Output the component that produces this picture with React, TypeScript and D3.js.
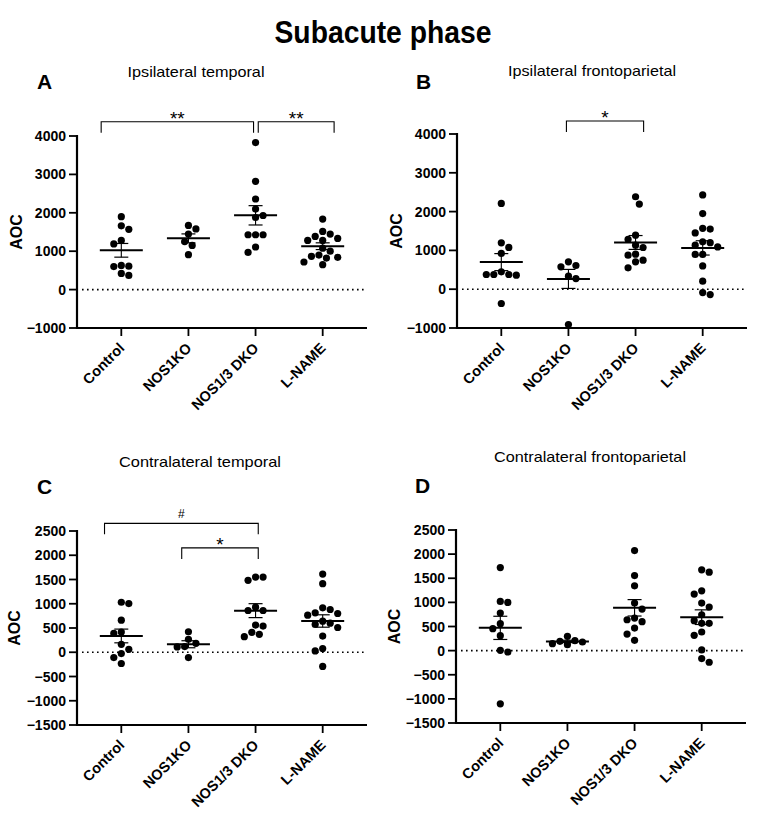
import React from "react";
import * as d3 from "d3";

const categories = ["Control", "NOS1KO", "NOS1/3 DKO", "L-NAME"];

// Panel A – Ipsilateral temporal
const ipsiTempControl = [1900, 1660, 1570, 1280, 1190, 630, 610, 600, 420, 370];
const ipsiTempNos1ko = [1670, 1580, 1445, 1250, 1150, 910];
const ipsiTempDko = [3830, 2820, 2360, 2096, 1930, 1878, 1429, 1429, 1429, 1109, 969];
const ipsiTempLname = [1836, 1515, 1446, 1385, 1333, 1281, 1281, 1080, 1000, 900, 866, 840, 822, 719, 649];

// Panel B – Ipsilateral frontoparietal
const ipsiFrontControl = [2211, 1195, 1076, 921, 447, 379, 379, 379, 361, -369];
const ipsiFrontNos1ko = [705, 611, 576, 335, 275, -912];
const ipsiFrontDko = [2383, 2194, 1393, 1282, 1135, 1075, 903, 877, 748, 705, 551];
const ipsiFrontLname = [2430, 1950, 1570, 1550, 1450, 1220, 1200, 1135, 1090, 895, 895, 600, 206, -86, -138];

// Panel C – Contralateral temporal
const contraTempControl = [1031, 1004, 662, 416, 389, 164, 61, -27, -109, -232];
const contraTempNos1ko = [423, 266, 184, 117, 109, -109];
const contraTempDko = [1551, 1551, 1482, 929, 861, 861, 560, 540, 410, 369, 321];
const contraTempLname = [1612, 1414, 915, 881, 813, 799, 765, 640, 600, 574, 510, 334, 75, 27, -293];

// Panel D – Contralateral frontoparietal
const contraFrontControl = [1722, 1019, 998, 778, 558, 455, 310, 7, -28, -1102];
const contraFrontNos1ko = [296, 207, 193, 179, 145, 124];
const contraFrontDko = [2073, 1556, 1343, 985, 861, 675, 640, 600, 468, 344, 213];
const contraFrontLname = [1674, 1626, 1240, 1171, 985, 902, 744, 620, 565, 565, 386, 317, 14, -165, -241];

const ticksIpsi = [-1000, 0, 1000, 2000, 3000, 4000];
const ticksContra = [-1500, -1000, -500, 0, 500, 1000, 1500, 2000, 2500];

// significance brackets: category index span (fractional) and height in data units
const bracketsA = [
  { from: -0.3, to: 1.97, y: 4370, label: "**" },
  { from: 2.04, to: 3.17, y: 4370, label: "**" },
];
const bracketsB = [{ from: 0.97, to: 2.12, y: 4335, label: "*" }];
const bracketsC = [
  { from: -0.25, to: 2.04, y: 2658, label: "#" },
  { from: 0.9, to: 2.04, y: 2152, label: "*" },
];
const bracketsD: { from: number; to: number; y: number; label: string }[] = [];

const FONT = "'Liberation Sans', Arial, Helvetica, sans-serif";

type PanelDef = {
  letter: string;
  title: string;
  groups: number[][];
  ticks: number[];
  brackets: { from: number; to: number; y: number; label: string }[];
  axisX: number;
  axisRight: number;
  yTop: number;
  yBottom: number;
  titleX: number;
  titleY: number;
  titleW: number;
  letterX: number;
  letterY: number;
  aocX: number;
};

const panels: PanelDef[] = [
  {
    letter: "A", title: "Ipsilateral temporal",
    groups: [ipsiTempControl, ipsiTempNos1ko, ipsiTempDko, ipsiTempLname],
    ticks: ticksIpsi, brackets: bracketsA,
    axisX: 77, axisRight: 367, yTop: 136, yBottom: 328,
    titleX: 196, titleY: 77, titleW: 137, letterX: 37, letterY: 89, aocX: 16,
  },
  {
    letter: "B", title: "Ipsilateral frontoparietal",
    groups: [ipsiFrontControl, ipsiFrontNos1ko, ipsiFrontDko, ipsiFrontLname],
    ticks: ticksIpsi, brackets: bracketsB,
    axisX: 457, axisRight: 747, yTop: 134, yBottom: 328,
    titleX: 592, titleY: 76, titleW: 168, letterX: 416, letterY: 89, aocX: 396,
  },
  {
    letter: "C", title: "Contralateral temporal",
    groups: [contraTempControl, contraTempNos1ko, contraTempDko, contraTempLname],
    ticks: ticksContra, brackets: bracketsC,
    axisX: 77, axisRight: 367, yTop: 531, yBottom: 725,
    titleX: 200, titleY: 467, titleW: 162, letterX: 37, letterY: 494, aocX: 14,
  },
  {
    letter: "D", title: "Contralateral frontoparietal",
    groups: [contraFrontControl, contraFrontNos1ko, contraFrontDko, contraFrontLname],
    ticks: ticksContra, brackets: bracketsD,
    axisX: 456, axisRight: 746, yTop: 530, yBottom: 723,
    titleX: 590, titleY: 462, titleW: 192, letterX: 415, letterY: 493, aocX: 394,
  },
];

const R = 3.6;
const STEP = 7.5;
const MIN_DIST = 7.5;

function swarm(values: number[], y: (v: number) => number, cx: number) {
  const order = values.map((v, i) => i).sort((a, b) => values[b] - values[a]);
  const placed: { x: number; y: number }[] = [];
  const out: { x: number; y: number }[] = new Array(values.length);
  let flip = 1;
  for (const i of order) {
    const py = y(values[i]);
    let chosen = 0;
    for (let k = 0; k < 40; k++) {
      const mag = Math.ceil(k / 2) * (STEP / 2);
      const sign = k === 0 ? 1 : (k % 2 === 1 ? flip : -flip);
      const off = mag * sign;
      const ok = placed.every((p) => Math.hypot(p.x - off, p.y - py) >= MIN_DIST);
      if (ok) { chosen = off; break; }
    }
    if (chosen !== 0) flip = chosen > 0 ? -1 : 1;
    placed.push({ x: chosen, y: py });
    out[i] = { x: cx + chosen, y: py };
  }
  return out;
}

function Panel({ p }: { p: PanelDef }) {
  const domain = d3.extent(p.ticks) as [number, number];
  const y = d3.scaleLinear().domain(domain).range([p.yBottom, p.yTop]);
  const x = d3.scalePoint<string>().domain(categories).range([p.axisX, p.axisRight]).padding(0.66);
  const idx = d3.scaleLinear().domain([0, categories.length - 1]).range([x(categories[0])!, x(categories[categories.length - 1])!]);
  const fmt = d3.format("d");
  const aocY = (p.yTop + p.yBottom) / 2;
  return (
    <g>
      <text x={p.titleX} y={p.titleY} textAnchor="middle" fontSize={15} fontFamily={FONT}
        textLength={p.titleW} lengthAdjust="spacingAndGlyphs">{p.title}</text>
      <text x={p.letterX} y={p.letterY} fontSize={21} fontWeight="bold" fontFamily={FONT}>{p.letter}</text>
      <text transform={`translate(${p.aocX + 6},${aocY}) rotate(-90)`} textAnchor="middle" fontSize={16}
        fontWeight="bold" fontFamily={FONT}>AOC</text>
      {/* y axis */}
      <line x1={p.axisX} x2={p.axisX} y1={p.yTop - 1} y2={p.yBottom + 1} stroke="#000" strokeWidth={2.2} />
      {p.ticks.map((t) => (
        <g key={t}>
          <line x1={p.axisX - 8} x2={p.axisX} y1={y(t)} y2={y(t)} stroke="#000" strokeWidth={1.8} />
          <text x={p.axisX - 11} y={y(t)} dy="0.36em" textAnchor="end" fontSize={14} fontWeight="bold"
            fontFamily={FONT}>{fmt(t)}</text>
        </g>
      ))}
      {/* x axis */}
      <line x1={p.axisX - 1} x2={p.axisRight} y1={p.yBottom} y2={p.yBottom} stroke="#000" strokeWidth={2.2} />
      {categories.map((c) => (
        <g key={c}>
          <line x1={x(c)!} x2={x(c)!} y1={p.yBottom} y2={p.yBottom + 8} stroke="#000" strokeWidth={1.8} />
          <text transform={`translate(${x(c)! + 4},${p.yBottom + 21}) rotate(-45)`} textAnchor="end"
            fontSize={14.5} fontWeight="bold" fontFamily={FONT}>{c}</text>
        </g>
      ))}
      {/* zero line */}
      <line x1={p.axisX + 5} x2={p.axisRight - 3} y1={y(0)} y2={y(0)} stroke="#000" strokeWidth={1.6}
        strokeDasharray="1.6,3.4" />
      {/* groups */}
      {p.groups.map((vals, gi) => {
        const cx = x(categories[gi])!;
        const m = d3.mean(vals)!;
        const sem = d3.deviation(vals)! / Math.sqrt(vals.length);
        const pts = swarm(vals, y, cx);
        return (
          <g key={gi}>
            {pts.map((pt, i) => (
              <circle key={i} cx={pt.x} cy={pt.y} r={R} fill="#000" />
            ))}
            <line x1={cx - 21.5} x2={cx + 21.5} y1={y(m)} y2={y(m)} stroke="#000" strokeWidth={2} />
            <line x1={cx} x2={cx} y1={y(m + sem)} y2={y(m - sem)} stroke="#000" strokeWidth={1.1} />
            <line x1={cx - 7} x2={cx + 7} y1={y(m + sem)} y2={y(m + sem)} stroke="#000" strokeWidth={1.2} />
            <line x1={cx - 7} x2={cx + 7} y1={y(m - sem)} y2={y(m - sem)} stroke="#000" strokeWidth={1.2} />
          </g>
        );
      })}
      {/* brackets */}
      {p.brackets.map((b, i) => {
        const x1 = idx(b.from);
        const x2 = idx(b.to);
        const by = y(b.y);
        const isHash = b.label === "#";
        return (
          <g key={i}>
            <path d={`M${x1},${by + 11}V${by}H${x2}V${by + 11}`} fill="none" stroke="#000" strokeWidth={1.1} />
            <text x={(x1 + x2) / 2} y={isHash ? by - 5 : by + 3} textAnchor="middle"
              fontSize={isHash ? 12 : 19} fontFamily={FONT}>{b.label}</text>
          </g>
        );
      })}
    </g>
  );
}

export default function App() {
  return (
    <svg width={758} height={819} viewBox="0 0 758 819"
      style={{ position: "absolute", left: 0, top: 0, display: "block", background: "#fff" }}>
      <rect width={758} height={819} fill="#fff" />
      <text x={383} y={43} textAnchor="middle" fontSize={32} fontWeight="bold" fontFamily={FONT}
        textLength={217} lengthAdjust="spacingAndGlyphs">Subacute phase</text>
      {panels.map((p) => (
        <Panel key={p.letter} p={p} />
      ))}
    </svg>
  );
}
